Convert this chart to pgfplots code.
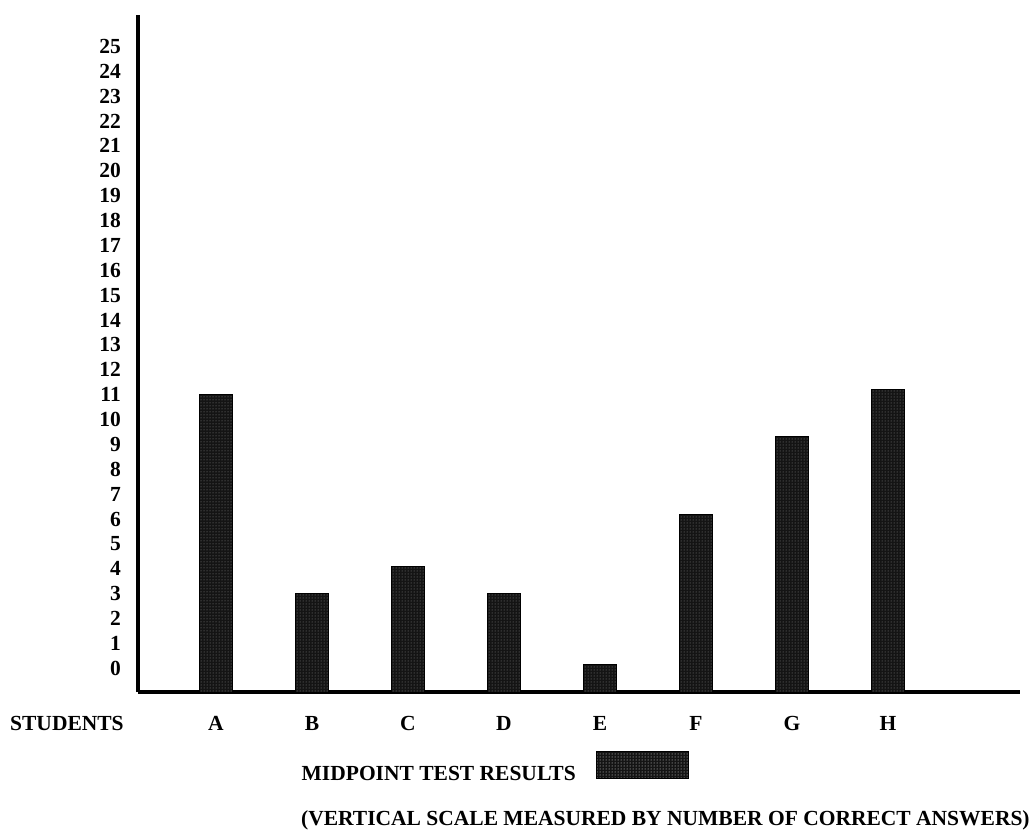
\documentclass[border=0pt]{standalone}
\usepackage{pgfplots}
\pgfplotsset{compat=1.18}
\usepackage{fontspec}
\setmainfont{Liberation Serif}
\usetikzlibrary{patterns}
\newcommand\lf{\fontsize{21.5}{24}\selectfont\bfseries}
\begin{document}
\begin{tikzpicture}[x=1pt,y=1pt]
\useasboundingbox (-138,-140) rectangle (892,692);
\tikzset{barstyle/.style={fill=black!92, draw=black, line width=1pt, postaction={pattern=dots, pattern color=black!45}}}
\begin{axis}[
 at={(0,0)}, anchor=south west,
 scale only axis, width=882pt, height=677pt,
 xmin=0.1875, xmax=9.375, ymin=-0.95, ymax=26.26,
 y coord trafo/.code={\pgfmathparse{#1+0.95}},
 y coord inv trafo/.code={\pgfmathparse{#1-0.95}},
 axis x line=bottom, axis y line=left,
 axis line style={line width=3.5pt, -},
 major tick length=0pt,
 ytick={0,1,...,25},
 yticklabels={0,1,2,3,4,5,6,7,8,9,10,11,12,13,14,15,16,17,18,19,20,21,22,23,24,25},
 xtick=data, xticklabels={A,B,C,D,E,F,G,H},
 tick label style={font=\lf, inner sep=0pt},
 yticklabel style={anchor=east, xshift=-17pt},
 xticklabel style={anchor=north, yshift=-24pt},
 ybar, bar width=33pt,
 legend style={at={(0.1856,-0.110)}, anchor=west, draw=none, fill=none, inner sep=0pt, outer sep=0pt, column sep=20pt, font=\lf, nodes={inner sep=0pt}},
 legend plot pos=right,
 legend image code/.code={\draw[barstyle] (0pt,-5pt) rectangle (92pt,22pt);},
]
\addplot[barstyle] coordinates {(1,11) (2,3) (3,4.1) (4,3) (5,0.15) (6,6.2) (7,9.3) (8,11.2)};
\addlegendentry{MIDPOINT TEST RESULTS}
\end{axis}
\node[anchor=north west, inner sep=0pt, font=\lf] at (-128,-24) {STUDENTS};
\node[anchor=base west, inner sep=0pt, font=\lf] at (163,-133) {(VERTICAL SCALE MEASURED BY NUMBER OF CORRECT ANSWERS)};
\end{tikzpicture}
\end{document}
